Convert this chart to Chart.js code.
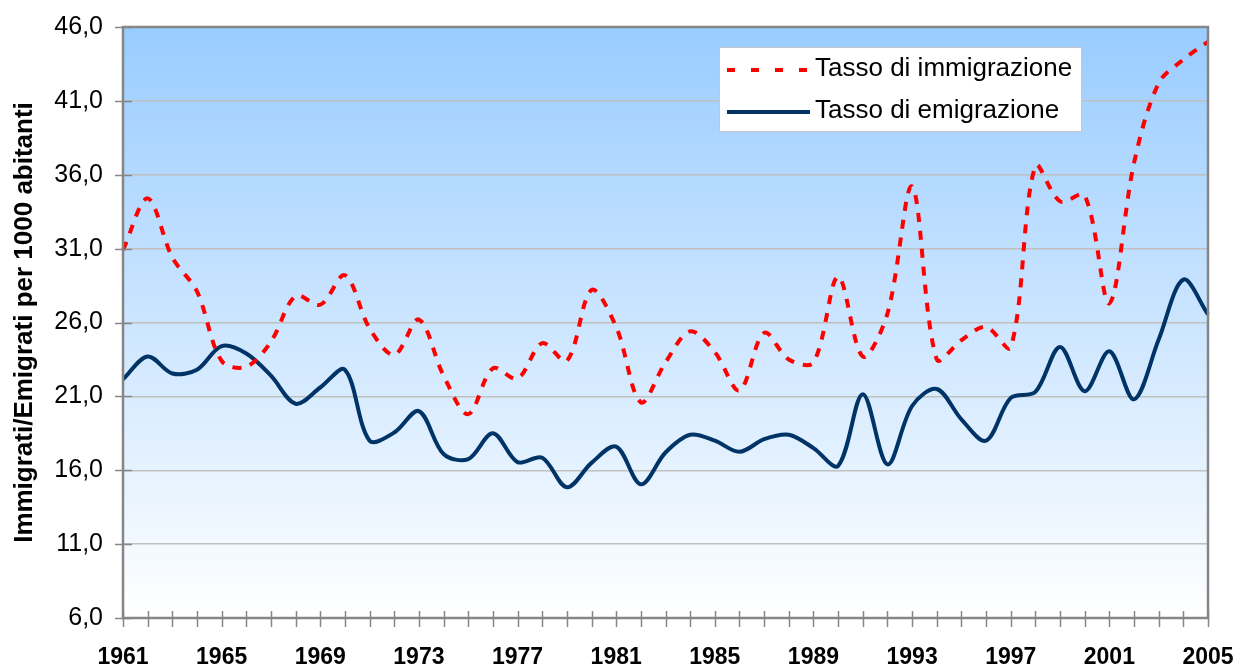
<!DOCTYPE html>
<html>
<head>
<meta charset="utf-8">
<script src="https://cdn.jsdelivr.net/npm/chart.js@4"></script>
<style>
  html, body { margin: 0; padding: 0; background: #fff; }
</style>
</head>
<body>
<canvas id="chart" width="1240" height="670"></canvas>
<script>
const years = ['1961','1962','1963','1964','1965','1966','1967','1968','1969','1970',
  '1971','1972','1973','1974','1975','1976','1977','1978','1979','1980',
  '1981','1982','1983','1984','1985','1986','1987','1988','1989','1990',
  '1991','1992','1993','1994','1995','1996','1997','1998','1999','2000',
  '2001','2002','2003','2004','2005'];

// tasso di immigrazione (per 1000 abitanti)
const immigrazione = [30.9, 34.4, 30.4, 28.1, 23.4, 23.0, 24.7, 27.8, 27.2, 29.2,
  25.6, 23.8, 26.2, 22.4, 19.8, 22.9, 22.2, 24.6, 23.4, 28.2,
  25.7, 20.6, 23.3, 25.4, 24.0, 21.4, 25.3, 23.5, 23.3, 29.1,
  23.7, 26.6, 35.2, 23.5, 24.8, 25.7, 24.3, 36.6, 34.2, 34.6,
  27.3, 36.8, 42.2, 43.8, 45.0];

// tasso di emigrazione (per 1000 abitanti)
const emigrazione = [22.15, 23.7, 22.55, 22.8, 24.4, 23.9, 22.4, 20.5, 21.6, 22.8,
  18.0, 18.55, 20.0, 17.1, 16.75, 18.5, 16.55, 16.85, 14.85, 16.5,
  17.6, 15.05, 17.2, 18.4, 18.0, 17.25, 18.1, 18.4, 17.5, 16.3,
  21.15, 16.4, 20.35, 21.5, 19.45, 18.0, 20.9, 21.3, 24.35, 21.35,
  24.05, 20.8, 24.85, 28.9, 26.55];

const yMin = 6, yMax = 46, yStep = 5;

const FONT = '"Liberation Sans", Arial, sans-serif';

// gradient background of the plot area
const plotBackground = {
  id: 'plotBackground',
  beforeDraw(chart) {
    const { ctx, chartArea: a } = chart;
    const g = ctx.createLinearGradient(0, a.top, 0, a.bottom);
    g.addColorStop(0, '#99CCFF');
    g.addColorStop(1, '#FFFFFF');
    ctx.save();
    ctx.fillStyle = g;
    ctx.fillRect(a.left, a.top, a.right - a.left, a.bottom - a.top);
    ctx.restore();
  }
};

// frame, cross tick marks, legend box
const frameAndLegend = {
  id: 'frameAndLegend',
  afterDraw(chart) {
    const { ctx, chartArea: a } = chart;
    const xs = chart.scales.x, ys = chart.scales.y;
    ctx.save();
    ctx.strokeStyle = '#868686';
    ctx.lineWidth = 2.5;
    ctx.strokeRect(a.left, a.top, a.right - a.left, a.bottom - a.top);

    ctx.lineWidth = 1.5;
    ctx.beginPath();
    xs.ticks.forEach((t, i) => {
      const x = Math.round(xs.getPixelForTick(i)) + 0.5;
      ctx.moveTo(x, a.bottom - 7);
      ctx.lineTo(x, a.bottom + 9);
    });
    ys.ticks.forEach((t, i) => {
      const y = Math.round(ys.getPixelForTick(i)) + 0.5;
      ctx.moveTo(a.left - 8, y);
      ctx.lineTo(a.left + 9, y);
    });
    ctx.stroke();

    // legend
    ctx.fillStyle = '#fff';
    ctx.fillRect(719, 47, 362, 84);
    ctx.strokeStyle = '#c6c6c6';
    ctx.lineWidth = 1;
    ctx.strokeRect(719.5, 47.5, 362, 84);
    chart.data.datasets.forEach((ds, i) => {
      const y = 69 + i * 42;
      ctx.strokeStyle = ds.borderColor;
      ctx.lineWidth = 4;
      ctx.setLineDash(ds.borderDash ? [8, 16] : []);
      ctx.beginPath();
      ctx.moveTo(727, y + 1);
      ctx.lineTo(ds.borderDash ? 807 : 810, y + 1);
      ctx.stroke();
      ctx.setLineDash([]);
      ctx.fillStyle = '#000';
      ctx.font = '26px ' + FONT;
      ctx.textBaseline = 'middle';
      ctx.fillText(ds.label, 815, y);
    });
    ctx.restore();
  }
};

new Chart(document.getElementById('chart'), {
  type: 'line',
  data: {
    labels: years,
    datasets: [{
      label: 'Tasso di immigrazione',
      data: immigrazione,
      borderColor: '#FF0000',
      borderWidth: 4,
      borderDash: [9, 9],
      pointRadius: 0,
      tension: 0.33,
      fill: false
    }, {
      label: 'Tasso di emigrazione',
      data: emigrazione,
      borderColor: '#003366',
      borderWidth: 4,
      pointRadius: 0,
      tension: 0.33,
      fill: false
    }]
  },
  options: {
    responsive: false,
    animation: false,
    layout: { padding: { top: 27, right: 32, left: 0, bottom: 0 } },
    plugins: {
      legend: { display: false },
      tooltip: { enabled: false }
    },
    scales: {
      x: {
        type: 'category',
        offset: false,
        afterFit(scale) {
          scale.height = 52;
          scale.paddingLeft = 0;
          scale.paddingRight = 0;
        },
        border: { display: false },
        grid: { display: true, drawOnChartArea: false, drawTicks: false },
        ticks: {
          autoSkip: false,
          maxRotation: 0,
          padding: 26,
          color: '#000',
          font: { family: FONT, size: 23, weight: 'bold' },
          callback(val, i) { return i % 4 === 0 ? years[i] : ''; }
        }
      },
      y: {
        min: yMin,
        max: yMax,
        afterFit(scale) {
          scale.width = 123;
          scale.paddingTop = 0;
          scale.paddingBottom = 0;
        },
        border: { display: false },
        grid: { color: '#c0c0c0', lineWidth: 1.5, drawTicks: false },
        ticks: {
          stepSize: yStep,
          padding: 20,
          color: '#000',
          font: { family: FONT, size: 25 },
          callback(v) { return v.toFixed(1).replace('.', ','); }
        },
        title: {
          display: true,
          text: 'Immigrati/Emigrati per 1000 abitanti',
          color: '#000',
          padding: { top: 9, bottom: 0 },
          font: { family: FONT, size: 26, weight: 'bold' }
        }
      }
    }
  },
  plugins: [plotBackground, frameAndLegend]
});
</script>
</body>
</html>
